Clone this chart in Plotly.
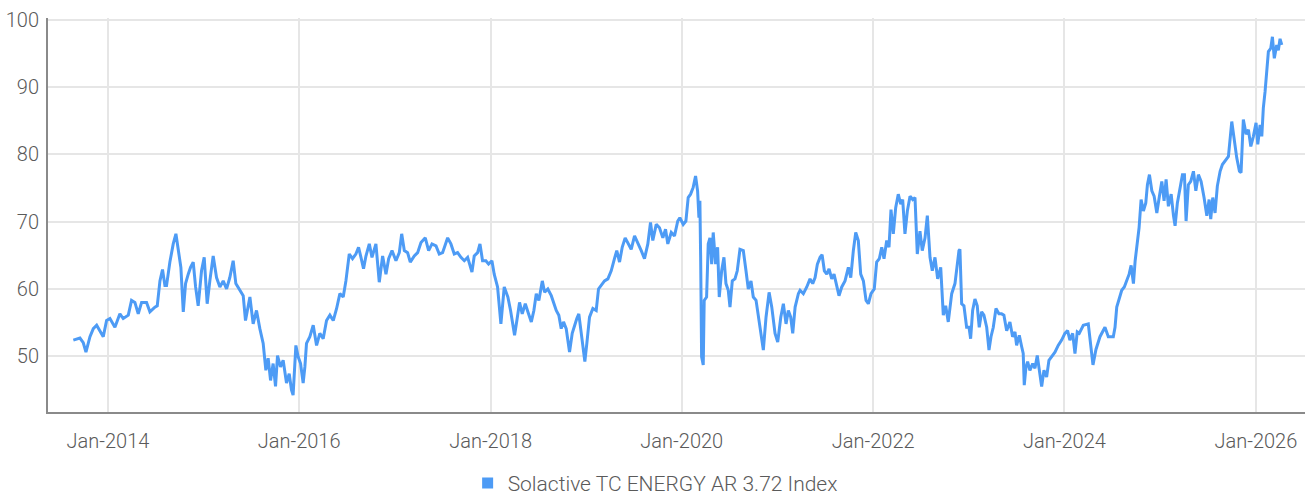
import pandas as pd
import plotly.graph_objects as go

# decimal-year positions and index values
years = [
2013.638,2013.707,2013.742,2013.770,2013.812,2013.847,2013.882,2013.916,2013.951,2013.986,
2014.021,2014.073,2014.125,2014.160,2014.213,2014.247,2014.282,2014.317,2014.352,2014.404,
2014.439,2014.491,2014.516,2014.544,2014.571,2014.596,2014.613,2014.648,2014.683,2014.711,
2014.735,2014.763,2014.788,2014.812,2014.840,2014.864,2014.892,2014.917,2014.944,2014.979,
2015.007,2015.038,2015.066,2015.101,2015.136,2015.171,2015.206,2015.241,2015.275,2015.310,
2015.338,2015.380,2015.415,2015.439,2015.485,2015.519,2015.554,2015.589,2015.624,2015.652,
2015.676,2015.701,2015.728,2015.753,2015.774,2015.805,2015.833,2015.868,2015.896,2015.920,
2015.937,2015.966,2015.990,2016.015,2016.042,2016.060,2016.077,2016.112,2016.147,2016.182,
2016.216,2016.251,2016.286,2016.321,2016.356,2016.391,2016.425,2016.460,2016.488,
2016.523,2016.557,2016.592,2016.620,2016.645,2016.672,2016.697,2016.732,2016.760,2016.801,
2016.836,2016.871,2016.906,2016.934,2016.969,2017.010,2017.045,2017.070,2017.098,2017.132,
2017.160,2017.202,2017.237,2017.272,2017.317,2017.352,2017.387,2017.429,2017.463,2017.498,
2017.551,2017.585,2017.620,2017.655,2017.690,2017.725,2017.760,2017.805,2017.829,2017.864,
2017.889,2017.916,2017.951,2017.979,2018.014,2018.038,2018.073,2018.108,2018.143,2018.181,
2018.209,2018.233,2018.251,2018.275,2018.303,2018.331,2018.363,2018.390,2018.426,2018.453,
2018.478,2018.505,2018.541,2018.565,2018.599,2018.635,2018.659,2018.687,2018.714,2018.739,
2018.763,2018.791,2018.808,2018.826,2018.854,2018.878,2018.902,2018.923,2018.948,2018.972,
2018.986,2019.007,2019.035,2019.070,2019.105,2019.129,2019.158,2019.192,2019.227,2019.262,
2019.296,2019.320,2019.349,2019.377,2019.408,2019.443,2019.471,2019.506,2019.540,2019.576,
2019.610,2019.645,2019.673,2019.697,2019.733,2019.767,2019.802,2019.830,2019.854,2019.890,
2019.924,2019.958,2019.980,2020.015,2020.043,2020.067,2020.092,2020.119,2020.144,2020.165,
2020.179,2020.189,2020.197,2020.207,2020.224,2020.234,2020.259,2020.276,2020.294,2020.312,
2020.328,2020.353,2020.374,2020.391,2020.416,2020.440,2020.461,2020.485,2020.503,2020.527,
2020.555,2020.579,2020.607,2020.642,2020.670,2020.694,2020.722,2020.746,2020.775,2020.799,
2020.827,2020.851,2020.879,2020.911,2020.939,2020.973,2021.001,2021.033,2021.060,2021.088,
2021.112,2021.137,2021.158,2021.183,2021.217,2021.235,2021.269,2021.305,2021.339,2021.367,
2021.392,2021.416,2021.444,2021.465,2021.489,2021.514,2021.538,2021.566,2021.590,2021.618,
2021.642,2021.671,2021.705,2021.740,2021.765,2021.792,2021.817,2021.844,2021.869,2021.897,
2021.925,2021.949,2021.977,2022.011,2022.036,2022.064,2022.089,2022.113,2022.141,2022.165,
2022.186,2022.210,2022.235,2022.262,2022.288,2022.308,2022.332,2022.357,2022.385,2022.413,
2022.437,2022.461,2022.489,2022.513,2022.542,2022.566,2022.594,2022.618,2022.646,2022.674,
2022.706,2022.733,2022.758,2022.785,2022.821,2022.855,2022.897,2022.907,2022.925,2022.949,
2022.977,2023.002,2023.019,2023.040,2023.064,2023.088,2023.109,2023.134,2023.158,2023.187,
2023.211,2023.232,2023.256,2023.284,2023.315,2023.343,2023.367,2023.396,2023.430,2023.458,
2023.483,2023.500,2023.528,2023.553,2023.569,2023.580,2023.598,2023.615,2023.639,2023.668,
2023.692,2023.716,2023.737,2023.762,2023.786,2023.814,2023.838,2023.866,2023.901,2023.935,
2023.971,2024.005,2024.033,2024.057,2024.086,2024.110,2024.134,2024.155,2024.197,2024.249,
2024.277,2024.298,2024.329,2024.371,2024.423,2024.458,2024.510,2024.528,2024.546,2024.573,
2024.598,2024.625,2024.650,2024.675,2024.696,2024.720,2024.738,2024.761,2024.779,2024.800,
2024.824,2024.849,2024.866,2024.887,2024.912,2024.936,2024.964,2024.991,2025.016,2025.040,
2025.061,2025.085,2025.114,2025.138,2025.155,2025.179,2025.208,2025.232,2025.253,2025.270,
2025.294,2025.319,2025.347,2025.372,2025.399,2025.427,2025.458,2025.487,2025.511,2025.528,
2025.549,2025.573,2025.597,2025.626,2025.650,2025.678,2025.713,2025.748,2025.772,2025.800,
2025.828,2025.845,2025.869,2025.898,2025.922,2025.947,2025.974,2026.002,2026.020,2026.044,
2026.062,2026.078,2026.096,2026.114,2026.131,2026.156,2026.173,2026.193,2026.218,2026.235,
2026.253,2026.271,
]
values = [
52.4,52.7,52.0,50.6,52.9,54.1,54.6,53.8,52.9,55.3,
55.6,54.3,56.3,55.6,56.1,58.3,58.0,56.3,58.0,58.0,
56.6,57.3,57.5,61.2,62.9,60.5,60.5,64.0,66.7,68.2,
65.7,63.2,56.6,60.8,62.2,63.2,64.0,60.3,57.5,62.7,
64.7,57.8,61.2,64.9,61.7,60.3,61.2,60.0,61.7,64.2,
60.8,59.8,59.0,55.3,58.8,54.8,56.8,54.1,51.9,47.9,
49.7,46.4,48.9,45.5,50.1,48.4,49.4,46.0,47.4,45.0,
44.2,51.6,49.9,48.9,46.0,48.4,51.9,52.9,54.6,51.6,
53.4,52.6,55.3,56.1,55.3,57.1,59.3,58.8,61.2,
65.2,64.5,65.2,66.2,64.7,63.0,64.9,66.7,64.7,66.7,
61.0,64.9,62.2,64.5,65.7,64.2,65.4,68.2,65.7,65.4,
64.0,64.9,65.4,66.9,67.6,65.7,66.7,66.4,65.2,65.4,
67.6,66.7,65.2,65.4,64.7,64.2,64.7,62.5,64.9,65.4,
66.7,64.2,64.2,63.7,64.2,62.2,60.3,54.8,60.3,58.8,
56.8,54.3,53.1,55.3,58.0,56.3,57.8,56.6,55.1,56.8,
59.3,58.3,61.2,59.5,60.0,59.0,57.8,56.8,56.1,54.1,
55.1,54.1,52.4,50.6,53.4,54.6,55.6,56.3,53.6,51.4,
49.2,51.9,55.8,57.1,56.8,60.0,60.5,61.2,61.5,62.7,
64.5,65.7,64.0,66.2,67.6,66.7,65.9,67.9,66.9,65.7,
64.5,66.7,69.9,67.2,69.6,69.1,67.6,68.9,66.7,68.4,
67.9,70.1,70.6,69.6,70.1,73.6,74.1,75.1,76.8,74.6,
70.6,73.1,64.7,49.9,48.7,58.3,58.8,66.7,67.6,63.7,
68.4,63.7,66.2,58.8,62.7,64.7,60.8,59.8,57.3,61.2,
61.5,62.7,65.9,65.7,62.7,60.0,61.2,58.8,58.3,55.8,
53.4,50.9,55.8,59.5,57.3,53.4,52.1,55.8,57.8,54.8,
56.8,55.8,53.4,57.3,59.3,59.8,59.3,60.3,61.5,60.8,
61.7,63.7,64.7,65.1,62.7,62.2,63.0,61.5,62.2,60.3,
59.0,60.3,61.2,63.2,61.7,65.7,68.4,67.2,62.2,61.2,
58.3,57.8,59.3,60.0,64.0,64.5,66.2,64.5,67.2,66.2,
71.8,68.2,72.1,74.1,72.6,73.3,68.2,71.6,73.8,73.3,
73.6,65.2,68.6,65.7,67.6,70.9,64.7,62.7,64.7,61.5,
63.2,56.1,57.5,55.1,59.3,60.8,65.7,65.9,57.8,57.5,
54.3,54.3,52.6,56.8,58.5,57.5,54.3,56.6,56.1,54.3,
50.9,52.9,54.3,57.1,56.3,56.3,56.1,53.8,55.1,52.9,
53.6,51.6,53.1,51.4,50.4,45.7,48.4,49.2,47.9,48.9,
48.2,50.1,47.9,45.5,47.9,46.9,49.4,49.9,50.6,51.6,
52.4,53.4,53.8,52.4,53.4,50.4,53.6,53.4,54.6,54.8,
51.5,48.7,51.0,52.9,54.3,52.9,52.9,54.3,57.3,58.8,
59.8,60.3,61.2,62.2,63.5,60.8,64.2,67.4,69.1,73.3,
71.6,72.8,75.5,77.0,74.6,73.8,71.3,73.8,76.0,73.1,
76.3,72.3,74.1,70.9,69.4,72.8,74.8,77.0,77.0,70.1,
75.5,76.0,77.5,74.6,77.0,76.0,73.6,70.9,73.3,70.4,
73.6,71.3,75.3,77.5,78.5,79.0,79.7,84.9,82.4,79.5,
77.5,77.3,85.2,83.0,83.7,81.2,82.7,84.7,81.5,84.4,
82.7,86.9,89.3,92.8,95.3,95.8,97.5,94.3,96.3,95.5,
97.2,96.3,
]

series_name = "Solactive TC ENERGY AR 3.72 Index"
y_ticks = [50, 60, 70, 80, 90, 100]


def to_date(y):
    yr = int(y)
    start = pd.Timestamp(yr, 1, 1)
    end = pd.Timestamp(yr + 1, 1, 1)
    return start + (end - start) * (y - yr)


dates = [to_date(y) for y in years]

LINE_COLOR = "#4d9bf5"
FONT = "Roboto, sans-serif"
TEXT_COLOR = "#5a5a5a"

fig = go.Figure()
fig.add_trace(go.Scatter(
    x=dates, y=values, mode="lines",
    line=dict(color=LINE_COLOR, width=3),
    showlegend=False, name=series_name,
))
fig.add_trace(go.Scatter(
    x=[None], y=[None], mode="markers",
    marker=dict(symbol="square", size=11, color=LINE_COLOR),
    name=series_name, showlegend=True,
))

fig.update_layout(
    width=1308, height=498,
    margin=dict(l=48, r=3, t=18, b=86, autoexpand=False),
    paper_bgcolor="white", plot_bgcolor="white",
    font=dict(family=FONT, size=20, weight=300, color=TEXT_COLOR),
    legend=dict(orientation="h", x=0.483, xanchor="center", y=-0.181, yanchor="middle",
                font=dict(family=FONT, size=21, weight=300, color=TEXT_COLOR),
                itemwidth=30, tracegroupgap=0),
)
fig.update_xaxes(
    type="date",
    range=[to_date(2013.373), to_date(2026.514)],
    tick0="2014-01-01", dtick="M24", tickformat="%b-%Y",
    showgrid=True, gridcolor="#e6e6e6", gridwidth=2,
    showline=True, linecolor="#8a8a8a", linewidth=2,
    ticks="", ticklabelstandoff=10, zeroline=False, automargin=False,
    ticklabeloverflow="allow",
)
fig.update_yaxes(
    range=[41.7, 100.3],
    tickvals=y_ticks,
    showgrid=True, gridcolor="#e6e6e6", gridwidth=2,
    showline=True, linecolor="#8a8a8a", linewidth=2,
    ticks="", ticklabelstandoff=3, zeroline=False, automargin=False,
    ticklabeloverflow="allow",
)

fig.write_html(
    "out.html",
    config={"displayModeBar": False},
    post_script="document.body.style.margin='0';document.body.style.overflow='hidden';",
)
